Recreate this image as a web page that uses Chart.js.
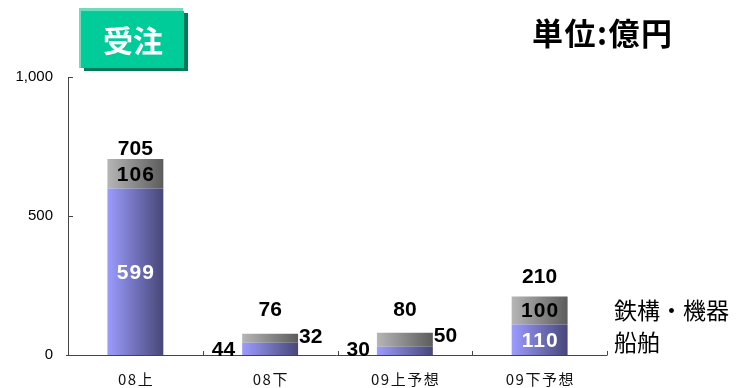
<!DOCTYPE html>
<html>
<head>
<meta charset="utf-8">
<script src="https://cdn.jsdelivr.net/npm/chart.js@4.4.1/dist/chart.umd.min.js"></script>
<style>
  html, body { margin: 0; padding: 0; background: #ffffff; }
  #wrap { position: relative; width: 736px; height: 388px; }
</style>
</head>
<body>
<div id="wrap"><canvas id="c" width="736" height="388"></canvas></div>
<script>
// 受注（単位：億円）
const categories = ['08上', '08下', '09上予想', '09下予想'];
const shipValues = [599, 44, 30, 110];        // 船舶
const steelValues = [106, 32, 50, 100];       // 鉄構・機器
const totalValues = [705, 76, 80, 210];       // 合計
const yTickValues = [0, 500, 1000];
const yTickLabels = ['0', '500', '1,000'];

// where the value labels of each column sit
const labelMode = ['inside', 'outside', 'outside', 'inside'];
const totalLift = [10, 24, 23, 19];

const BAR_PCT = 0.415;
const NUM_FONT = 'bold 21px "Liberation Sans", Arial, sans-serif';
const CJK = '"Noto Sans CJK JP", "Noto Sans", sans-serif';

function barGradient(ctx, from, to) {
  if (ctx.type !== 'data') return from;
  const chart = ctx.chart;
  const xs = chart.scales.x;
  if (!xs || !chart.chartArea) return from;
  const cx = xs.getPixelForValue(ctx.dataIndex);
  const w = xs.width / categories.length * BAR_PCT;
  const g = chart.ctx.createLinearGradient(cx - w / 2, 0, cx + w / 2, 0);
  g.addColorStop(0, from);
  g.addColorStop(1, to);
  return g;
}

function drawText(c, text, x, y, font, color, align, baseline, spacing) {
  c.save();
  c.font = font;
  c.fillStyle = color;
  c.textAlign = align;
  c.textBaseline = baseline;
  if (spacing) {
    c.letterSpacing = spacing + 'px';
    if (align === 'center') x += spacing / 2;
    else if (align === 'right') x += spacing;
  }
  c.fillText(text, x, y);
  c.restore();
}

const decorPlugin = {
  id: 'decor',
  beforeDraw(chart) {
    const c = chart.ctx;
    // 受注 title plate
    c.save();
    c.fillStyle = '#007a58';
    c.fillRect(84, 13, 104, 58);
    c.fillStyle = '#6fdcbc';
    c.fillRect(79, 8, 104, 60);
    c.fillStyle = '#00cc99';
    c.fillRect(81, 11, 103, 57);
    c.restore();
    drawText(c, '受注', 133, 41, 'bold 30px ' + CJK, '#ffffff', 'center', 'middle');
    drawText(c, '単位:億円', 532, 33, 'bold 31px ' + CJK, '#000000', 'left', 'middle', 1.5);
  },
  afterDatasetsDraw(chart) {
    const c = chart.ctx;
    const xs = chart.scales.x, ys = chart.scales.y;
    const left = chart.chartArea.left, right = chart.chartArea.right;
    const top = ys.getPixelForValue(1000), bottom = ys.getPixelForValue(0);

    // axes
    c.save();
    c.strokeStyle = '#444444';
    c.lineWidth = 1;
    c.beginPath();
    c.moveTo(left + 0.5, top);
    c.lineTo(left + 0.5, bottom + 0.5);
    c.moveTo(left - 2, bottom + 0.5);
    c.lineTo(right + 0.5, bottom + 0.5);
    yTickValues.forEach(v => {
      const y = Math.round(ys.getPixelForValue(v)) + 0.5;
      c.moveTo(left, y);
      c.lineTo(left + 5, y);
    });
    const step = xs.width / categories.length;
    for (let i = 1; i <= categories.length; i++) {
      const x = Math.round(left + step * i) + 0.5;
      c.moveTo(x, bottom);
      c.lineTo(x, bottom - 4);
    }
    c.stroke();
    c.restore();

    // y tick labels
    yTickValues.forEach((v, i) => {
      drawText(c, yTickLabels[i], 53, ys.getPixelForValue(v), '15px "Liberation Sans", Arial, sans-serif', '#000000', 'right', 'middle');
    });
    // category labels
    categories.forEach((lab, i) => {
      drawText(c, lab, xs.getPixelForValue(i), 379, '15px ' + CJK, '#111111', 'center', 'middle', 1.5);
    });

    // value labels
    const shipMeta = chart.getDatasetMeta(0), steelMeta = chart.getDatasetMeta(1);
    categories.forEach((lab, i) => {
      const s = shipMeta.data[i], t = steelMeta.data[i];
      const bl = s.x - s.width / 2, br = s.x + s.width / 2;
      if (labelMode[i] === 'inside') {
        drawText(c, String(shipValues[i]), s.x, (s.y + s.base) / 2 + 1, NUM_FONT, '#ffffff', 'center', 'middle', 1);
        drawText(c, String(steelValues[i]), t.x, (t.y + t.base) / 2 + 1, NUM_FONT, '#000000', 'center', 'middle', 1);
      } else {
        drawText(c, String(shipValues[i]), bl - 7, bottom + 1, NUM_FONT, '#000000', 'right', 'alphabetic');
        drawText(c, String(steelValues[i]), br + 1, t.y + 3, NUM_FONT, '#000000', 'left', 'middle');
      }
      drawText(c, String(totalValues[i]), t.x, t.y - totalLift[i], NUM_FONT, '#000000', 'center', 'middle');
    });

    // series names
    drawText(c, '鉄構・機器', 614, 310, '23px ' + CJK, '#000000', 'left', 'middle');
    drawText(c, '船舶', 614, 342, '23px ' + CJK, '#000000', 'left', 'middle');
  }
};

new Chart(document.getElementById('c'), {
  type: 'bar',
  data: {
    labels: categories,
    datasets: [
      {
        label: '船舶',
        data: shipValues,
        backgroundColor: ctx => barGradient(ctx, '#9c9cff', '#474778'),
        borderWidth: 0,
        barPercentage: BAR_PCT,
        categoryPercentage: 1
      },
      {
        label: '鉄構・機器',
        data: steelValues,
        backgroundColor: ctx => barGradient(ctx, '#b6b6b6', '#5c5c5c'),
        borderWidth: 0,
        barPercentage: BAR_PCT,
        categoryPercentage: 1
      }
    ]
  },
  options: {
    responsive: false,
    animation: false,
    layout: { padding: { left: 68, right: 129, top: 77, bottom: 33 } },
    plugins: { legend: { display: false }, tooltip: { enabled: false } },
    scales: {
      x: { display: false, stacked: true, offset: true },
      y: { display: false, stacked: true, min: 0, max: 1000 }
    }
  },
  plugins: [decorPlugin]
});
</script>
</body>
</html>
